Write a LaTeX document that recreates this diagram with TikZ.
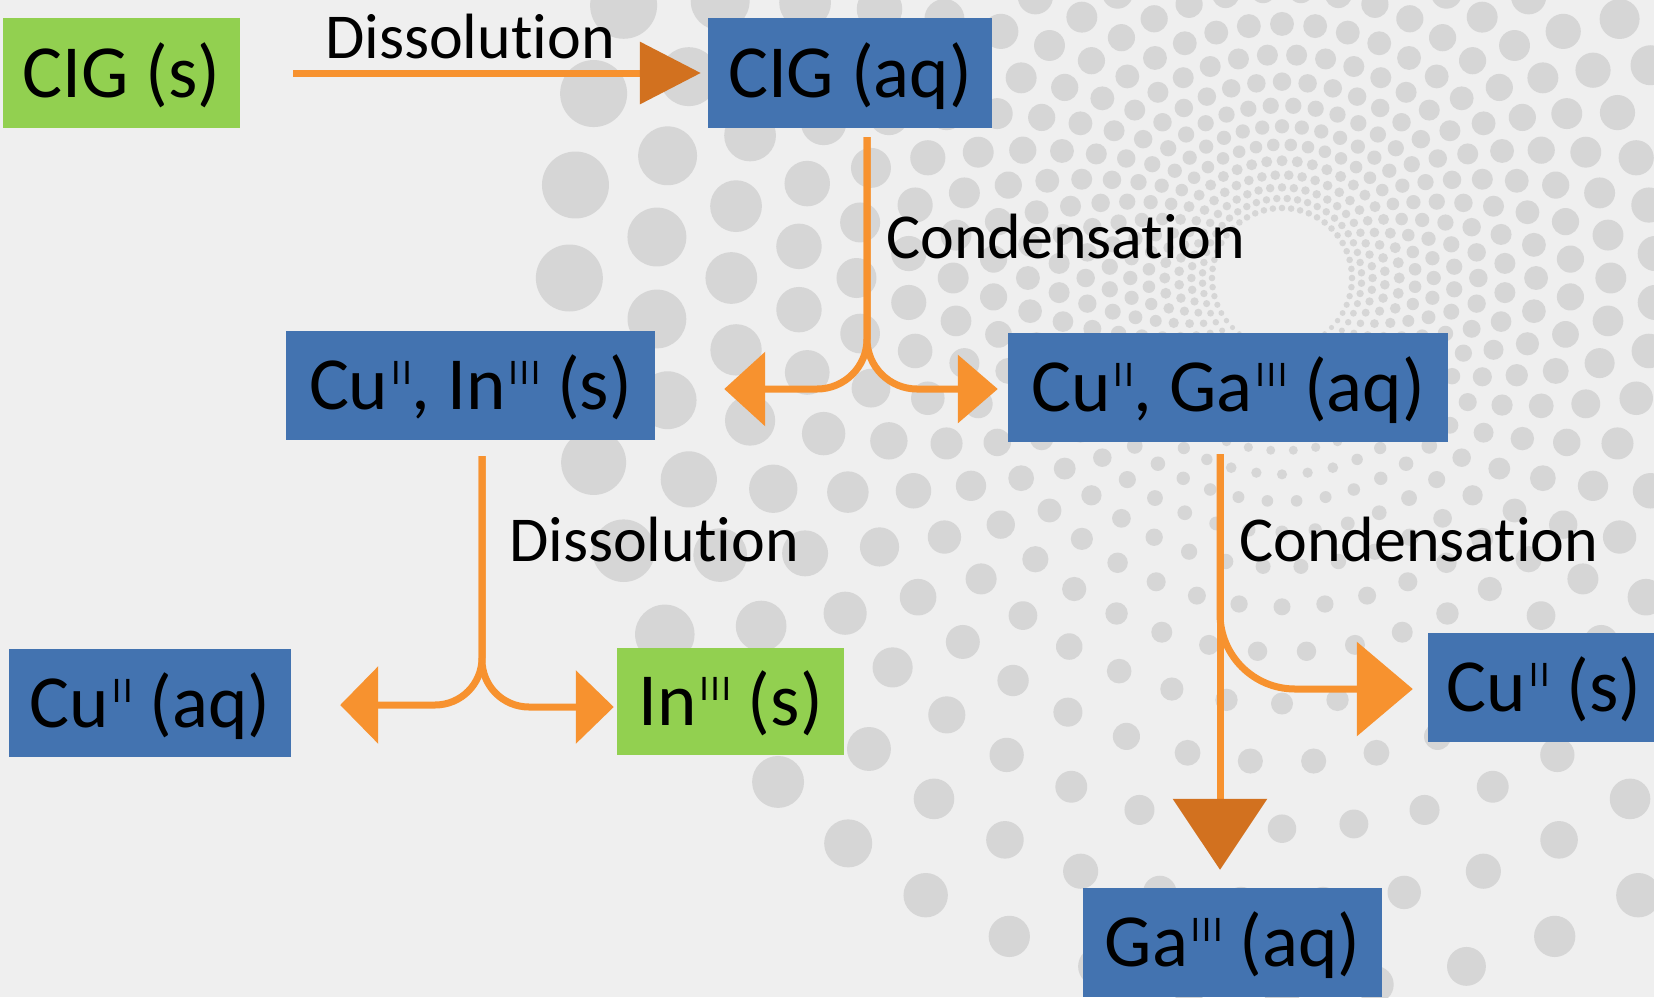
\documentclass[tikz,border=0pt]{standalone}
\usepackage{fontspec}
\setmainfont{Carlito}[Ligatures=CommonOff]
\usetikzlibrary{arrows.meta,calc}
\definecolor{bgc}{HTML}{EFEFEF}
\definecolor{dotc}{HTML}{D6D6D6}
\definecolor{boxblue}{HTML}{4373B0}
\definecolor{boxgreen}{HTML}{92D050}
\definecolor{flow}{HTML}{F7922F}
\definecolor{flowdark}{HTML}{D2711F}
% oxidation state written as a raised roman numeral
\newcommand\ox[1]{\kern3pt\raisebox{25pt}{\fontsize{36}{38}\selectfont\addfontfeature{LetterSpace=6}#1}}
\begin{document}
\begin{tikzpicture}[x=1pt,y=-1pt,
  species/.style={rectangle, inner sep=0pt, text=black,
    font=\fontsize{75}{80}\selectfont, text height=60pt, text depth=12pt},
  bluebox/.style={species, fill=boxblue},
  greenbox/.style={species, fill=boxgreen},
  process/.style={font=\fontsize{64}{70}\selectfont, inner sep=0pt, anchor=base west},
  flowline/.style={draw=flow, line width=7pt},
]
% page and backdrop
\fill[bgc] (0,0) rectangle (1654,997);
\useasboundingbox (0,0) rectangle (1654,997);
\begin{scope}
  \clip (0,0) rectangle (1654,997);
  % spiral of dots growing outwards, smaller below
  \foreach \k in {0,...,18}{
    \pgfmathsetmacro\r{70*1.1376^\k}
    \foreach \j in {0,...,47}{
      \pgfmathsetmacro\a{\j*7.5+\k*3.75}
      \pgfmathsetmacro\w{1-0.45*(max(0,sin(\a)))^2}
      \pgfmathsetmacro\dr{0.047*\r*\w}
      \fill[dotc] ($(1282,278)+(\a:\r)$) circle[radius=\dr pt];
    }
  }
\end{scope}

% species
\node[greenbox, minimum width=237pt, minimum height=110pt] (cigs)  at (121.5,73) {CIG (s)};
\node[bluebox,  minimum width=284pt, minimum height=110pt] (cigaq) at (850,73) {CIG (aq)};
\node[bluebox,  minimum width=369pt, minimum height=109pt] (cuin)  at (470.5,385.5) {Cu\ox{II}, In\ox{III} (s)};
\node[bluebox,  minimum width=440pt, minimum height=109pt] (cuga)  at (1228,387.5) {Cu\ox{II}, Ga\ox{III} (aq)};
\node[bluebox,  minimum width=282pt, minimum height=108pt] (cuaq)  at (150,703) {Cu\ox{II} (aq)};
\node[greenbox, minimum width=227pt, minimum height=107pt] (ins)   at (730.5,701.5) {In\ox{III} (s)};
\node[bluebox,  minimum width=232pt, minimum height=109pt] (cus)   at (1544,687.5) {Cu\ox{II} (s)};
\node[bluebox,  minimum width=299pt, minimum height=109pt] (gaaq)  at (1232.5,942.5) {Ga\ox{III} (aq)};

% process labels
\node[process] (diss1) at (325,58)  {Dissolution};
\node[process] (cond1) at (886,258) {Condensation};
\node[process] (diss2) at (509,561) {Dissolution};
\node[process] (cond2) at (1239,561) {Condensation};

% CIG (s) -> CIG (aq)
\draw[flowline, -{Triangle[length=61pt, width=61pt, color=flowdark, fill=flowdark]}]
  ($(cigs.east)+(53,0)$) -- ($(cigaq.west)+(-7,0)$);

% CIG (aq) splits into two
\coordinate (c1) at ($(cigaq.south)+(17,9)$);
\draw[flowline, rounded corners=50pt, -{Triangle[length=41pt, width=73pt]}]
  (c1) |- ($(cuin.east)+(69,3.5)$);
\draw[flowline, rounded corners=50pt, -{Triangle[length=40pt, width=67pt]}]
  (c1) |- ($(cuga.west)+(-10,1.5)$);

% Cu, In (s) splits into two
\coordinate (c2) at ($(cuin.south)+(11.5,16)$);
\draw[flowline, rounded corners=47pt, -{Triangle[length=38pt, width=76pt]}]
  (c2) |- ($(cuaq.east)+(49,2)$);
\draw[flowline, rounded corners=47pt, -{Triangle[length=38pt, width=72pt]}]
  (c2) |- ($(ins.west)+(-3,5.5)$);

% Cu, Ga (aq) splits into two
\coordinate (c3) at ($(cuga.south)+(-8,12)$);
\draw[flowline, -{Triangle[length=71pt, width=93pt, color=flowdark, fill=flowdark]}]
  (c3) -- ($(gaaq.north)+(-12.5,-18)$);
\draw[flowline, rounded corners=75pt, -{Triangle[length=56pt, width=93pt]}]
  (c3) |- ($(cus.west)+(-15,1.5)$);
\end{tikzpicture}
\end{document}
